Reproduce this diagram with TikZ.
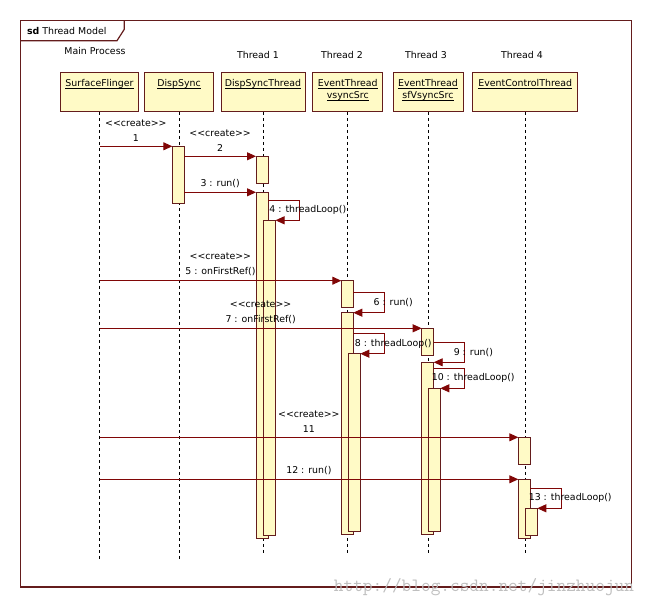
\documentclass[tikz,border=0pt]{standalone}
\usepackage{fontspec}
\setmainfont{DejaVu Sans}
\usetikzlibrary{arrows.meta}

\definecolor{umlline}{RGB}{128,6,6}
\definecolor{umlframe}{RGB}{100,28,28}
\definecolor{umlfill}{RGB}{255,250,198}

% underline at a fixed depth under the baseline
\newcommand{\uname}[1]{\leavevmode\setbox0\hbox{#1}\rlap{\rule[-2pt]{\wd0}{0.6pt}}\box0}
% two plain < and > signs, no guillemets
\newcommand{\createtag}{<\kern0pt<create>\kern0pt>}

\tikzset{
  >={Triangle[length=9pt,width=8pt]},
  head/.style={draw=umlframe, fill=umlfill, line width=0.9pt, anchor=north, text width=#1, align=center,
    inner xsep=0pt, inner ysep=0pt, text height=14pt, text depth=25pt},
  act/.style={draw=umlframe, fill=umlfill, line width=0.9pt, anchor=north west, minimum width=12pt,
    minimum height=#1, inner sep=0pt, outer sep=0pt},
  lifeline/.style={black, line width=0.8pt, dash pattern=on 3pt off 3pt},
  msg/.style={->, umlline, line width=0.9pt},
  msglabel/.style={above, align=center, inner sep=4.5pt, text=black, font=\fontsize{9.4pt}{15pt}\selectfont},
  looplabel/.style={pos=0.25, xshift=8.5pt, inner sep=0pt, text=black}
}

\begin{document}
\begin{tikzpicture}[x=1pt, y=-1pt, font=\fontsize{9.4pt}{12pt}\selectfont]
    \useasboundingbox (0,0) rectangle (651,607);
    % Draw the frame and its tab
    \draw[umlframe, line width=1.2pt] (20.7,20.7) rectangle (631.7,587);
    \draw[umlframe, line width=1.2pt] (20.7,40.7) -- (117,40.7) -- (124.3,29.3) -- (124.3,20.7);
    \node[anchor=west] (title) at (23.5,31) {\textbf{sd}\ Thread Model};
    % Draw the thread names
    \node (mainproc) at (95,51) {Main Process};
    \node (thread1) at (258,54.5) {Thread 1};
    \node (thread2) at (342,54.5) {Thread 2};
    \node (thread3) at (426,54.5) {Thread 3};
    \node (thread4) at (522,54.5) {Thread 4};
    % Draw the objects
    \node[head=78pt] (sf) at (99.5,72) {\uname{SurfaceFlinger}};
    \node[head=69pt] (ds) at (179,72) {\uname{DispSync}};
    \node[head=84pt] (dst) at (263,72) {\uname{DispSyncThread}};
    \node[head=70pt] (vs) at (347.8,72) {\uname{EventThread}\\\uname{vsyncSrc}};
    \node[head=70pt] (sfv) at (428,72) {\uname{EventThread}\\\uname{sfVsyncSrc}};
    \node[head=105pt] (ect) at (525.3,72) {\uname{EventControlThread}};
    % Draw the lifelines
    \draw[lifeline] (sf.south) -- ++(0,447);
    \draw[lifeline] (ds.south) -- ++(0,447);
    \draw[lifeline] (dst.south) -- ++(0,441);
    \draw[lifeline] (vs.south) -- ++(0,441);
    \draw[lifeline] (sfv.south) -- ++(0,441);
    \draw[lifeline] (ect.south) -- ++(0,441);
    % Draw the activations
    \node[act=57pt] (dsA) at (172.3,146.3) {};
    \node[act=27pt] (dstA1) at (256,156.3) {};
    \node[act=346pt] (dstA2) at (256,192.3) {};
    \node[act=315.4pt] (dstA3) at (263.5,220.3) {};
    \node[act=27pt] (vsA1) at (341.3,280.7) {};
    \node[act=221.6pt] (vsA2) at (341.3,312.7) {};
    \node[act=177.3pt] (vsA3) at (348.3,353.7) {};
    \node[act=26.7pt] (sfvA1) at (421.7,328.3) {};
    \node[act=172pt] (sfvA2) at (421.7,362.3) {};
    \node[act=143.4pt] (sfvA3) at (428.3,388.3) {};
    \node[act=27.4pt] (ectA1) at (518.3,437.3) {};
    \node[act=59pt] (ectA2) at (518.3,479.3) {};
    \node[act=27pt] (ectA3) at (525.3,508.3) {};
    % Draw the messages
    \draw[msg] (sf.south |- dsA.north west) -- node[msglabel] {\createtag\\1} (dsA.north west);
    \draw[msg] (dsA.east |- dstA1.north west) -- node[msglabel] {\createtag\\2} (dstA1.north west);
    \draw[msg] (dsA.east |- dstA2.north west) -- node[msglabel] {3 : run()} (dstA2.north west);
    \draw[msg] ([yshift=-7.7pt]dstA2.north east) -- ++(31.3,0) |- node[looplabel] {4 : threadLoop()} (dstA3.north east);
    \draw[msg] (sf.south |- vsA1.north west) -- node[msglabel] {\createtag\\5 : onFirstRef()} (vsA1.north west);
    \draw[msg] ([yshift=-11.6pt]vsA1.north east) -- ++(31.4,0) |- node[looplabel] {6 : run()} (vsA2.north east);
    \draw[msg] (sf.south |- sfvA1.north west) -- node[msglabel] {\createtag\\7 : onFirstRef()} (sfvA1.north west);
    \draw[msg] ([yshift=-20.6pt]vsA2.north east) -- ++(31.4,0) |- node[looplabel] {8 : threadLoop()} (vsA3.north east);
    \draw[msg] ([yshift=-14.4pt]sfvA1.north east) -- ++(31.2,0) |- node[looplabel] {9 : run()} (sfvA2.north east);
    \draw[msg] ([yshift=-6pt]sfvA2.north east) -- ++(31,0) |- node[looplabel] {10 : threadLoop()} (sfvA3.north east);
    \draw[msg] (sf.south |- ectA1.north west) -- node[msglabel] {\createtag\\11} (ectA1.north west);
    \draw[msg] (sf.south |- ectA2.north west) -- node[msglabel] {12 : run()} (ectA2.north west);
    \draw[msg] ([yshift=-9pt]ectA2.north east) -- ++(31.4,0) |- node[looplabel] {13 : threadLoop()} (ectA3.north east);
    % Watermark
    \node[text=black!25, font=\fontsize{18.8pt}{20pt}\ttfamily] (wmark) at (484,587) {http://blog.csdn.net/jinzhuojun};
\end{tikzpicture}
\end{document}
